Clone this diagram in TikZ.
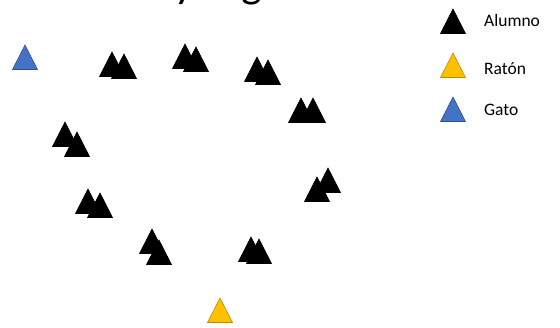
\documentclass[tikz,border=0pt]{standalone}
\usepackage{fontspec}
\setmainfont{Carlito}
\definecolor{gatoblue}{HTML}{4472C4}
\definecolor{gatoedge}{HTML}{2F528F}
\definecolor{ratonyellow}{HTML}{FFC000}
\definecolor{ratonedge}{HTML}{BC8C00}
\usetikzlibrary{positioning}
\newcommand{\tri}[3]{\filldraw[#3, line width=0.6pt] (#1,#2) -- ++(12.5,24.5) -- ++(-25,0) -- cycle;}

\begin{document}
\begin{tikzpicture}[x=1pt, y=-1pt]
  \useasboundingbox (0,0) rectangle (560,327);
  % Title, cut off at the top
  \begin{scope}
    \clip (0,0) rectangle (560,327);
    \node[font=\fontsize{44}{50}\selectfont, anchor=base] (title) at (189,-3) {Distribución y organización};
  \end{scope}
  % Alumnos (pairs)
  \foreach \ax/\ay/\bx/\by in {112/52/124/54, 185/44/196/47, 257/57/268/60,
      301/98/313/98, 65/122/77/132, 88/189/100/193, 152/229/159/240,
      317/177/328/168, 251/237/259/239}{
    \tri{\ax}{\ay}{black}
    \tri{\bx}{\by}{black}
  }
  % Gato and ratón
  \tri{25}{45}{fill=gatoblue, draw=gatoedge}
  \tri{220}{298}{fill=ratonyellow, draw=ratonedge}
  % Legend
  \tri{453}{9}{black}
  \tri{453}{53}{fill=ratonyellow, draw=ratonedge}
  \tri{453}{97}{fill=gatoblue, draw=gatoedge}
  \node[font=\fontsize{17.5}{21}\selectfont, anchor=base west, inner sep=0] (alumno) at (484,26.5) {Alumno};
  \node[font=\fontsize{17.5}{21}\selectfont, anchor=base west, inner sep=0] (raton) at (484,74.5) {Ratón};
  \node[font=\fontsize{17.5}{21}\selectfont, anchor=base west, inner sep=0] (gato) at (484,115.5) {Gato};
\end{tikzpicture}
\end{document}
